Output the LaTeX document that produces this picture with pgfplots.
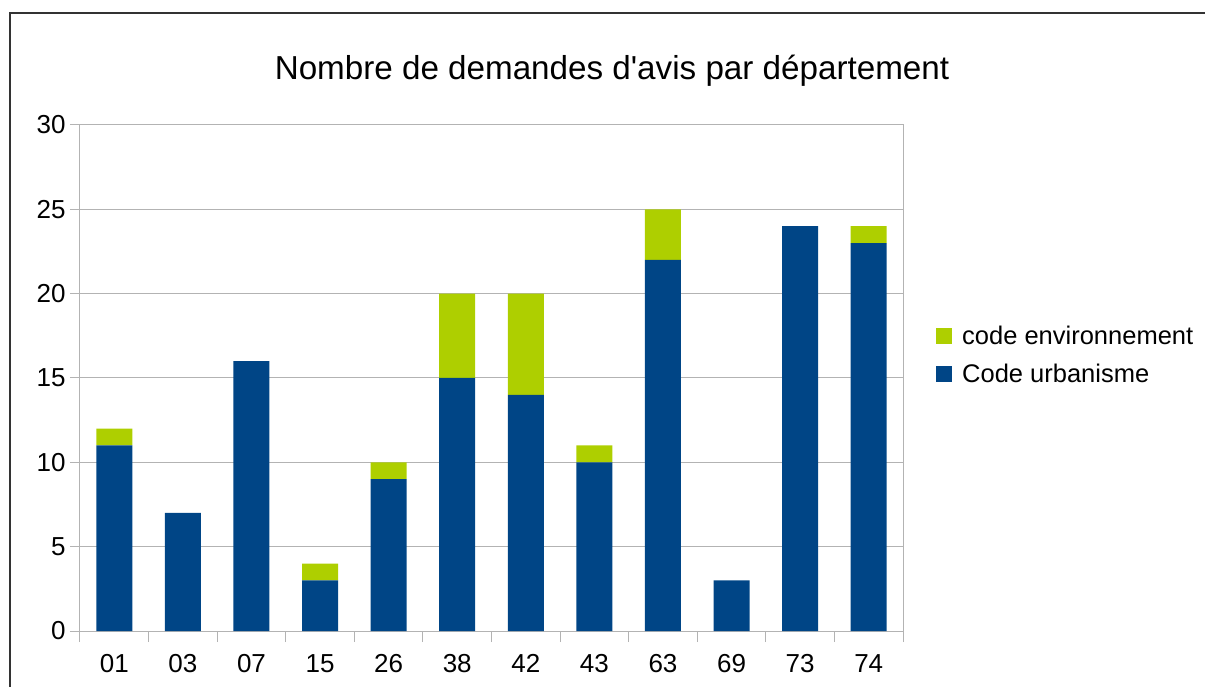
\documentclass[border=0pt]{standalone}
\usepackage{fontspec}
\setmainfont{Liberation Sans}
\usepackage{pgfplots}
\pgfplotsset{compat=1.18}
\definecolor{cblue}{HTML}{004586}
\definecolor{cgreen}{HTML}{AECF00}
\definecolor{gridgray}{HTML}{B3B3B3}
\begin{document}
\begin{tikzpicture}
\useasboundingbox (0,0) rectangle (1205pt,686pt);
\draw[color=black!80, line width=1.3pt] (10pt,-2pt) -- (10pt,673pt) -- (1207pt,673pt);
\node[font=\fontsize{33.2}{38}\selectfont, anchor=center] at (612pt,615pt) {Nombre de demandes d\textquotesingle avis par département};
\begin{axis}[
  at={(80pt,55pt)}, anchor=south west,
  scale only axis, width=823pt, height=506pt,
  ybar stacked, bar width=36pt,
  xmin=-0.5, xmax=11.5, ymin=0, ymax=30,
  xtick={0,...,11},
  xticklabels={01,03,07,15,26,38,42,43,63,69,73,74},
  minor xtick={-0.5,0.5,...,11.5},
  ytick={0,5,...,30},
  major x tick style={draw=none},
  tick align=outside,
  xtick pos=bottom, ytick pos=left,
  major tick length=10pt, minor tick length=11pt,
  tick style={gridgray, line width=1pt},
  axis line style={gridgray, line width=1pt},
  ymajorgrids, grid style={gridgray, line width=1pt},
  /pgf/number format/assume math mode=true,
  ticklabel style={font=\fontsize{26}{30}\selectfont},
  xticklabel style={yshift=-10pt},
  yticklabel style={xshift=-1pt},
  reverse legend,
  legend style={at={(1,0.546)}, anchor=west, xshift=30pt, draw=none, fill=none,
    font=\fontsize{25.5}{30}\selectfont, row sep=14pt,
    /tikz/every odd column/.append style={column sep=8pt}},
  legend cell align=left,
  legend image code/.code={\fill[#1] (0pt,-8pt) rectangle (16pt,8pt);},
]
\addplot[fill=cblue, draw=none] coordinates {(0,11) (1,7) (2,16) (3,3) (4,9) (5,15) (6,14) (7,10) (8,22) (9,3) (10,24) (11,23)};
\addplot[fill=cgreen, draw=none] coordinates {(0,1) (1,0) (2,0) (3,1) (4,1) (5,5) (6,6) (7,1) (8,3) (9,0) (10,0) (11,1)};
\legend{Code urbanisme, code environnement}
\end{axis}
\end{tikzpicture}
\end{document}
